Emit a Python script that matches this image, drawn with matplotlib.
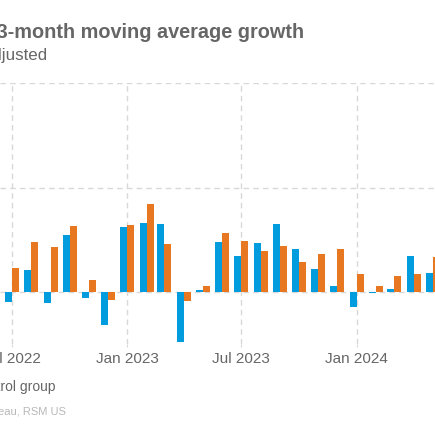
import matplotlib
matplotlib.use("Agg")
import matplotlib.pyplot as plt
import matplotlib.dates as mdates
import datetime as dt

plt.rcParams['font.family'] = ['Liberation Sans', 'DejaVu Sans']

# ---- data ----
months = ["2022-07", "2022-08", "2022-09", "2022-10", "2022-11", "2022-12",
          "2023-01", "2023-02", "2023-03", "2023-04", "2023-05", "2023-06",
          "2023-07", "2023-08", "2023-09", "2023-10", "2023-11", "2023-12",
          "2024-01", "2024-02", "2024-03", "2024-04", "2024-05"]
retail_sales = [-0.10, 0.21, -0.11, 0.54, -0.06, -0.32,
                0.62, 0.66, 0.65, -0.48, 0.02, 0.48,
                0.34, 0.47, 0.65, 0.41, 0.22, 0.06,
                -0.15, -0.01, 0.03, 0.34, 0.18]
control_group = [0.23, 0.48, 0.43, 0.63, 0.11, -0.08,
                 0.64, 0.84, 0.46, -0.09, 0.06, 0.56,
                 0.49, 0.39, 0.44, 0.29, 0.36, 0.41,
                 0.17, 0.06, 0.15, 0.17, 0.33]
tick_dates = ["2022-07", "2023-01", "2023-07", "2024-01"]
tick_labels = ["Jul 2022", "Jan 2023", "Jul 2023", "Jan 2024"]
y_grid = [0, 1, 2]

title = "Retail sales: 3-month moving average growth"
subtitle = "Seasonally adjusted"
legend_label = "Control group"
source = "Source: Census Bureau, RSM US"

BLUE = "#009cde"
ORANGE = "#e87722"
GRID = "#d8d8d8"
TEXT = "#666666"

def to_num(s):
    y, m = s.split("-")
    return mdates.date2num(dt.datetime(int(y), int(m), 1))

x = [to_num(m) for m in months]

W, H = 435, 435
fig = plt.figure(figsize=(W / 100 + 1e-4, H / 100 + 1e-4), dpi=100)
fig.patch.set_facecolor("white")

zero_px = 291.7
unit_px = 104.5
ymin, ymax = -0.5, 2.0
ax_bottom_px = zero_px - ymin * unit_px
ax_top_px = zero_px - ymax * unit_px
ax = fig.add_axes([0, 1 - ax_bottom_px / H, 1, (ax_bottom_px - ax_top_px) / H])

x0 = to_num("2022-07")
x1 = to_num("2024-01")
px0, px1 = 11.7, 356.7
dpp = (x1 - x0) / (px1 - px0)
ax.set_xlim(x0 - px0 * dpp, x1 + (W - px1) * dpp)
ax.set_ylim(ymin, ymax + 0.005)

bw = 7.0 * dpp
ax.bar([v - bw for v in x], retail_sales, width=bw, align='edge', color=BLUE,
       linewidth=0, zorder=3)
ax.bar(x, control_group, width=bw, align='edge', color=ORANGE,
       linewidth=0, zorder=3)

for s in ax.spines.values():
    s.set_visible(False)
ax.set_yticks(y_grid)
ax.tick_params(axis='y', left=False, labelleft=False)
ax.set_xticks([to_num(t) for t in tick_dates])
ax.set_xticklabels(tick_labels)
ax.tick_params(axis='x', length=2, color=GRID, pad=4, labelsize=11, labelcolor=TEXT)
ax.grid(True, axis='both', color=GRID, linestyle=(0, (4, 3)), linewidth=1.0, zorder=0)
ax.set_facecolor("none")

fig.text(304 / W, 1 - 38 / H, title, ha='right', va='baseline', fontsize=14.3,
         fontweight='bold', color=TEXT)
fig.text(46.7 / W, 1 - 60 / H, subtitle, ha='right', va='baseline', fontsize=12.2,
         color=TEXT)
fig.text(55 / W, 1 - 391 / H, legend_label, ha='right', va='baseline', fontsize=10,
         color=TEXT)
fig.text(65.7 / W, 1 - 414.5 / H, source, ha='right', va='baseline', fontsize=8.0,
         color="#b8b8b8")

fig.savefig("out.png", dpi=100)
